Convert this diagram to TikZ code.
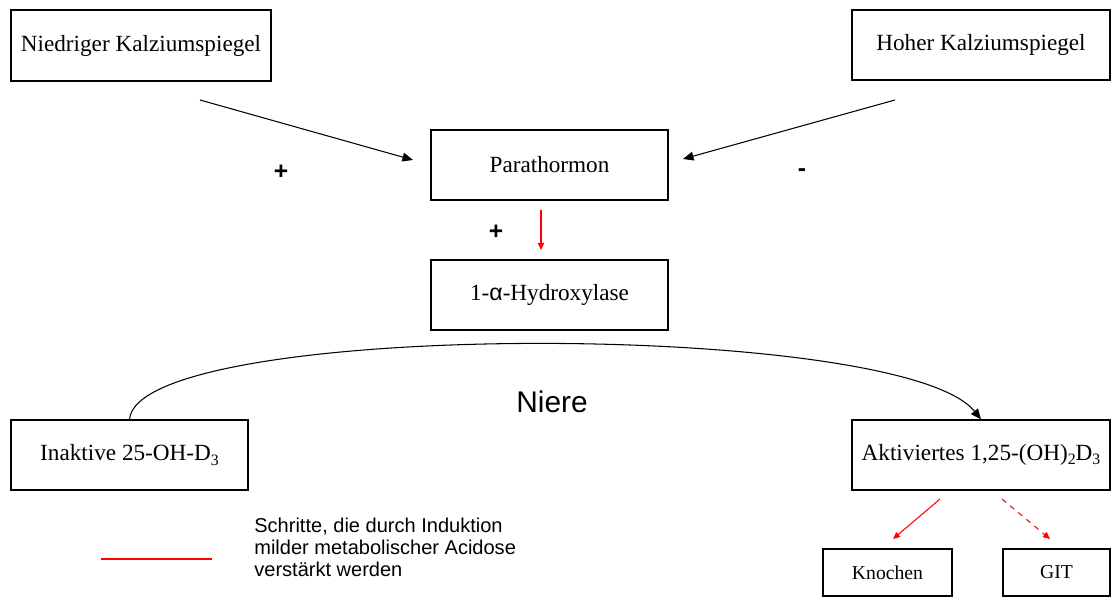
\documentclass[tikz,border=0pt]{standalone}
\usepackage{fontspec}
\setmainfont{Liberation Serif}
\setsansfont{Liberation Sans}
\usetikzlibrary{arrows.meta}
\newcommand{\tief}[1]{\raisebox{-0.4ex}{\fontsize{9}{9}\selectfont #1}}

\tikzset{
  kasten/.style={draw, line width=0.65pt, inner sep=0pt, font=\fontsize{13.2}{16}\selectfont},
  kleinkasten/.style={kasten, font=\fontsize{11.2}{14}\selectfont},
  pfeil/.style={line width=0.6pt, -{Triangle[length=6pt,width=5pt]}},
  rotpfeil/.style={red, line width=0.6pt, -{Triangle[length=4pt,width=3.5pt]}},
  zeichen/.style={font=\sffamily\bfseries\fontsize{14}{16}\selectfont}
}

\begin{document}
\begin{tikzpicture}[x=0.02cm, y=-0.02cm]
        \useasboundingbox (0,0) rectangle (1111,597);
        % Kaesten
        \node[kasten, minimum width=5.2cm, minimum height=1.42cm] (niedrig) at (141,45.5) {Niedriger Kalziumspiegel};
        \node[kasten, minimum width=5.16cm, minimum height=1.4cm] (hoch) at (981,45) {Hoher Kalziumspiegel};
        \node[kasten, minimum width=4.74cm, minimum height=1.4cm] (para) at (549.5,165) {Parathormon};
        \node[kasten, minimum width=4.74cm, minimum height=1.4cm] (hydrox) at (549.5,295) {1-{\sffamily α}-Hydroxylase};
        \node[kasten, minimum width=4.74cm, minimum height=1.4cm] (inaktiv) at (129.5,455) {Inaktive 25-OH-D\tief{3}};
        \node[kasten, minimum width=5.16cm, minimum height=1.4cm] (aktiv) at (981,455) {Aktiviertes 1,25-(OH)\tief{2}D\tief{3}};
        \node[kleinkasten, minimum width=2.58cm, minimum height=0.94cm] (knochen) at (887.5,572.5) {Knochen};
        \node[kleinkasten, minimum width=2.14cm, minimum height=0.94cm] (git) at (1056.5,572.5) {GIT};
        % Zeichen
        \node[zeichen] (plus1) at (281,172) {+};
        \node[zeichen] (minus) at (802,173) {-};
        \node[zeichen] (plus2) at (496,232) {+};
        \node[font=\sffamily\fontsize{17}{20}\selectfont] (niere) at (552,402) {Niere};
        % Pfeile
        \coordinate (n1) at (200,100);
        \coordinate (n2) at (413,160);
        \coordinate (h1) at (895,100);
        \coordinate (h2) at (683,159);
        \coordinate (p1) at (541,210);
        \coordinate (p2) at (541,250);
        \coordinate (a1) at (940,499);
        \coordinate (a2) at (893,539);
        \coordinate (a3) at (1002,499);
        \coordinate (a4) at (1050,539);
        \draw[pfeil] (n1) -- (n2);
        \draw[pfeil] (h1) -- (h2);
        \draw[rotpfeil] (p1) -- (p2);
        \draw[pfeil] (inaktiv.north) .. controls +(8,-100) and +(-80,-100) .. (aktiv.north);
        \draw[rotpfeil] (a1) -- (a2);
        \draw[rotpfeil, dashed] (a3) -- (a4);
        % Legende
        \coordinate (l1) at (101,559);
        \coordinate (l2) at (212,559);
        \draw[red, line width=0.7pt] (l1) -- (l2);
        \node[anchor=north west, inner sep=0pt, align=left, font=\sffamily\fontsize{11.4}{12.4}\selectfont] (legende) at (254,518)
          {Schritte, die durch Induktion\\milder metabolischer Acidose\\verstärkt werden};
\end{tikzpicture}
\end{document}
